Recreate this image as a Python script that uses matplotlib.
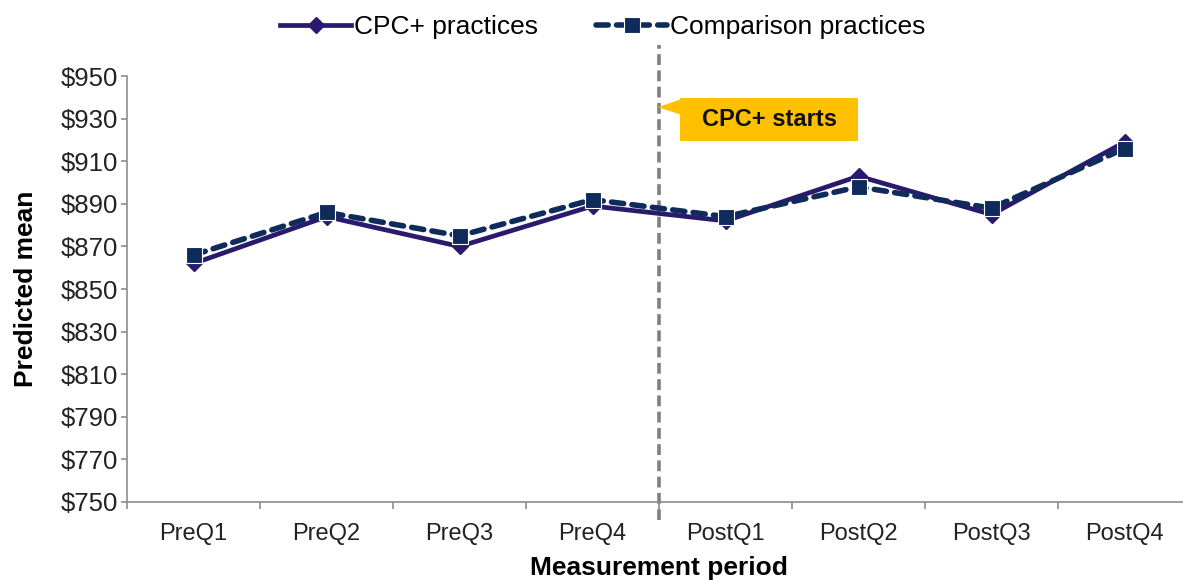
import matplotlib.pyplot as plt
from matplotlib.patches import Polygon, Rectangle
import numpy as np

plt.rcParams["font.family"] = ["Liberation Sans", "DejaVu Sans"]

periods = ["PreQ1", "PreQ2", "PreQ3", "PreQ4", "PostQ1", "PostQ2", "PostQ3", "PostQ4"]
cpc_plus = [862, 884, 870, 889, 882, 903, 885, 919]
comparison = [866, 886, 875, 892, 884, 898, 888, 916]
y_ticks = list(range(750, 951, 20))

fig = plt.figure(figsize=(11.83, 5.81), dpi=100)
ax = fig.add_axes([0.1074, 0.136, 0.8994, 0.733])

x = np.arange(len(periods))

ax.plot(x, cpc_plus, color="#2A1A6E", linewidth=3.4, marker="D", markersize=8,
        label="CPC+ practices", zorder=3)
ax.plot(x, comparison, color="#0F2B5B", linewidth=4, linestyle=(0, (2.2, 1.5)),
        dash_capstyle="round", marker="s", markersize=12, markeredgecolor="white",
        markeredgewidth=0.8, label="Comparison practices", zorder=4)

ax.set_xlim(-0.5, len(periods) - 0.5)
ax.set_ylim(750, 950)
ax.set_yticks(y_ticks)
ax.set_yticklabels([f"${v}" for v in y_ticks])
ax.set_xticks(x)
ax.set_xticklabels(periods)
ax.set_xticks(np.arange(len(periods) + 1) - 0.5, minor=True)
ax.tick_params(axis="x", which="major", length=0, pad=15, labelsize=17, labelcolor="#222222")
ax.tick_params(axis="x", which="minor", length=5, color="#8c8c8c", width=1.2)
ax.tick_params(axis="y", length=4.5, color="#8c8c8c", width=1.2, pad=2,
               labelsize=18.5, labelcolor="#222222")

for side in ["top", "right"]:
    ax.spines[side].set_visible(False)
for side in ["left", "bottom"]:
    ax.spines[side].set_color("#8c8c8c")
    ax.spines[side].set_linewidth(1.2)

ax.set_ylabel("Predicted mean", fontsize=19, fontweight="bold", labelpad=16)
ax.set_xlabel("Measurement period", fontsize=19, fontweight="bold", labelpad=8)

# start of the intervention, between PreQ4 and PostQ1
ax.axvline(3.5, ymin=-0.042, ymax=1.073, color="#808080", linewidth=2.6,
           linestyle=(0, (3.0, 1.5)), clip_on=False, zorder=2)

# callout box
gold = "#FFC000"
ax.add_patch(Rectangle((3.658, 919.5), 1.338, 20.2, facecolor=gold, edgecolor="none",
                       zorder=5))
ax.add_patch(Polygon([[3.66, 939.0], [3.49, 935.4], [3.66, 932.0]], closed=True,
                     facecolor=gold, edgecolor="none", clip_on=False, zorder=5))
ax.text(4.327, 929.4, "CPC+ starts", fontsize=17, fontweight="bold", color="#111111",
        ha="center", va="center", zorder=6)

ax.legend(loc="center", bbox_to_anchor=(0.447, 1.115), ncol=2, frameon=False,
          fontsize=19, handlelength=2.7, handletextpad=0.1, columnspacing=2.2,
          borderaxespad=0)

fig.savefig("out.png", dpi=100)
plt.close(fig)
